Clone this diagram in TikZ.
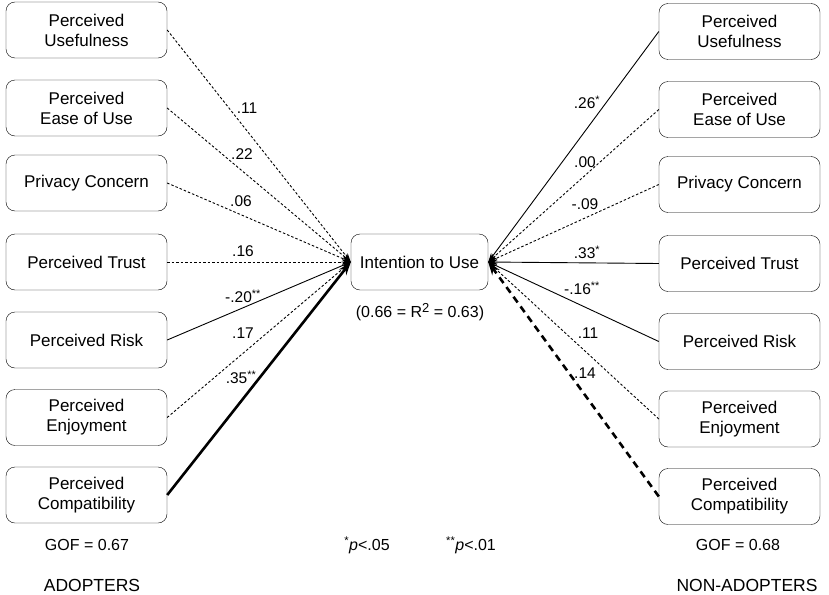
\documentclass[tikz,border=0pt]{standalone}
\usepackage{fontspec}
\setmainfont{Liberation Sans}
\usetikzlibrary{arrows.meta, positioning}

\begin{document}
\begin{tikzpicture}[x=1pt, y=-1pt,
    factor/.style={draw, rounded corners=9pt, minimum width=161pt, minimum height=56pt,
      inner sep=0pt, align=center, font=\fontsize{17}{20}\selectfont},
    coef/.style={inner sep=1pt, font=\fontsize{15.5}{17}\selectfont},
    note/.style={inner sep=1pt, font=\fontsize{16}{18}\selectfont},
    link/.style={-{Stealth[length=9pt, width=6pt]}, line width=0.9pt},
    nonsig/.style={link, dash pattern=on 2.5pt off 2pt},
    strong/.style={-{Stealth[length=13pt, width=9pt]}, line width=2.6pt},
    strongns/.style={strong, dash pattern=on 7pt off 5pt}]
  \useasboundingbox (0,0) rectangle (829,594);

  % adopters (left) and non-adopters (right)
  \foreach \n/\y/\t in {PU/30/{Perceived\\Usefulness}, PEOU/108/{Perceived\\Ease of Use},
      PC/183/{Privacy Concern}, PT/262/{Perceived Trust}, PR/340/{Perceived Risk},
      PE/417.5/{Perceived\\Enjoyment}, PCo/495/{Perceived\\Compatibility}} {
    \node[factor] (a\n) at (86.5,\y) {\t};
    \node[factor] (n\n) at (739.5,\y+1.5) {\t};
  }
  \node[factor, minimum width=137pt] (itu) at (419.5,262) {Intention to Use};

  % adopters paths
  \draw[nonsig] (aPU.east) -- (itu.west);
  \draw[nonsig] (aPEOU.east) -- (itu.west);
  \draw[nonsig] (aPC.east) -- (itu.west);
  \draw[nonsig] (aPT.east) -- (itu.west);
  \draw[link] (aPR.east) -- (itu.west);
  \draw[nonsig] (aPE.east) -- (itu.west);
  \draw[strong] (aPCo.east) -- (itu.west);

  % non-adopters paths
  \draw[link] (nPU.west) -- (itu.east);
  \draw[nonsig] (nPEOU.west) -- (itu.east);
  \draw[nonsig] (nPC.west) -- (itu.east);
  \draw[link] (nPT.west) -- (itu.east);
  \draw[link] (nPR.west) -- (itu.east);
  \draw[nonsig] (nPE.west) -- (itu.east);
  \draw[strongns] (nPCo.west) -- (itu.east);

  % coefficients
  \foreach \n/\x/\y/\l in {a1/247/108/{.11}, a2/242/154/{.22}, a3/241/201/{.06},
      a4/243/251/{.16}, a5/243/296/{-.20\textsuperscript{**}}, a6/243/333/{.17},
      a7/241/377/{.35\textsuperscript{**}},
      n1/587/102/{.26\textsuperscript{*}}, n2/585/162/{.00}, n3/585/204/{-.09},
      n4/587/252/{.33\textsuperscript{*}}, n5/582/288/{-.16\textsuperscript{**}},
      n6/588/333/{.11}, n7/585/373/{.14}}
    \node[coef] (c\n) at (\x,\y) {\l};

  \node[coef, font=\fontsize{16}{18}\selectfont] (rsq) at (420,312)
    {(0.66 = R\raisebox{0.55ex}{\fontsize{13}{13}\selectfont 2} = 0.63)};

  \node[note] (gofa) at (87,545) {GOF = 0.67};
  \node[note] (gofn) at (738,545) {GOF = 0.68};
  \node[note] (p05) at (367,545) {\textsuperscript{*}\textit{p}<.05};
  \node[note] (p01) at (471,545) {\textsuperscript{**}\textit{p}<.01};
  \node[note, font=\fontsize{17.5}{20}\selectfont] (adopt) at (92,585) {ADOPTERS};
  \node[note, font=\fontsize{17.5}{20}\selectfont] (nonadopt) at (747,585) {NON-ADOPTERS};
\end{tikzpicture}
\end{document}
